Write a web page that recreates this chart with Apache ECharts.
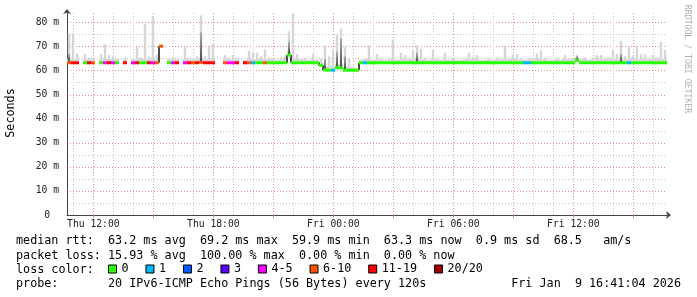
<!DOCTYPE html>
<html><head><meta charset="utf-8">
<script src="https://cdn.jsdelivr.net/npm/echarts@6/dist/echarts.min.js"></script>
<style>html,body{margin:0;padding:0;background:#fff}#c{width:697px;height:297px}</style>
</head><body><div id="c"></div>
<script>
// ---- time frame (minutes after Thu 00:00) ----
const START_MIN = 641;      // Thu 10:41
const SPAN_MIN = 1800;      // 30 hours
const BIN_MIN = 12;         // one value per 12 minutes

// ---- tick labels ----
const xTickLabels = ['Thu 12:00', 'Thu 18:00', 'Fri 00:00', 'Fri 06:00', 'Fri 12:00'];
const yTickValues = [0, 10, 20, 30, 40, 50, 60, 70, 80];

// ---- loss colour classes ----
const lossClasses = ['0', '1', '2', '3', '4-5', '6-10', '11-19', '20/20'];
const lossUpper   = [0, 1, 2, 3, 5, 10, 19, 20];
const lossColors  = ['#26ff00', '#00b8ff', '#0059ff', '#5e00ff', '#ff00ff', '#ff5500', '#ff0000', '#a00000'];

// ---- series values, one per 12-minute bin (150 bins) ----
const medianRtt = [
  63.3, 63.3, 63.3, null, 63.3, 63.3, 63.3, null, 63.3, 63.3,
  63.3, 63.3, 63.3, null, 63.3, null, 63.3, 63.3, 63.3, 63.3,
  63.3, 63.3, 63.3, 70.2, null, 63.3, 63.3, 63.3, null, 63.3,
  63.3, 63.3, 63.3, 63.5, 63.3, 63.3, 63.3, null, null, 63.3,
  63.3, 63.3, 63.3, null, 63.3, 63.3, 63.3, 63.3, 63.3, 63.3,
  63.3, 63.3, 63.3, 63.3, 63.3, 66.5, 63.3, 63.3, 63.3, 63.3,
  63.3, 63.3, 63.3, 62.2, 60.3, 60.2, 60.2, 61.2, 61.2, 60.2,
  60.2, 60.2, 60.2, 63.3, 63.3, 63.3, 63.3, 63.3, 63.3, 63.3,
  63.3, 63.3, 63.3, 63.3, 63.3, 63.3, 63.3, 63.3, 63.3, 63.3,
  63.3, 63.3, 63.3, 63.3, 63.3, 63.3, 63.3, 63.3, 63.3, 63.3,
  63.3, 63.3, 63.3, 63.3, 63.3, 63.3, 63.3, 63.3, 63.3, 63.3,
  63.3, 63.3, 63.3, 63.3, 63.3, 63.3, 63.3, 63.3, 63.3, 63.3,
  63.3, 63.3, 63.3, 63.3, 63.3, 63.3, 63.3, 64.3, 63.3, 63.3,
  63.3, 63.3, 63.3, 63.3, 63.3, 63.3, 63.3, 63.3, 63.3, 63.3,
  63.3, 63.3, 63.3, 63.3, 63.3, 63.3, 63.3, 63.3, 63.3, 63.3
];
const lossCount = [
  8, 15, 15, 20, 0, 15, 8, 20, 0, 5,
  15, 5, 0, 20, 15, 20, 5, 15, 0, 0,
  15, 5, 8, 8, 20, 0, 5, 15, 20, 5,
  15, 8, 15, 8, 15, 15, 15, 20, 20, 8,
  5, 5, 15, 20, 15, 8, 1, 0, 0, 8,
  0, 0, 0, 0, 0, 0, 0, 0, 0, 0,
  0, 0, 0, 0, 0, 0, 1, 0, 0, 0,
  0, 0, 0, 0, 1, 0, 0, 0, 0, 0,
  0, 0, 0, 0, 0, 0, 0, 0, 0, 0,
  0, 0, 0, 0, 0, 0, 0, 0, 0, 0,
  0, 0, 0, 0, 0, 0, 0, 0, 0, 0,
  0, 0, 0, 0, 1, 1, 0, 0, 0, 0,
  0, 0, 0, 0, 0, 0, 0, 0, 0, 0,
  0, 0, 0, 0, 0, 0, 0, 0, 0, 0,
  1, 0, 0, 0, 0, 0, 0, 0, 0, 0
];
const smokeMax = [
  75.4, 75.6, 67.2, null, 67.0, 65.5, 65.0, null, 67.0, 71.0,
  66.5, 66.0, 65.0, null, 65.5, null, 65.0, 70.0, 65.5, 79.3,
  65.8, 82.6, 66.6, 70.5, null, 65.0, 65.8, 64.8, null, 70.0,
  65.0, 64.8, 66.0, 83.0, 66.0, 70.5, 71.6, null, null, 66.5,
  65.5, 66.5, 65.0, null, 64.5, 68.2, 67.5, 67.5, 66.0, 68.9,
  65.5, 65.0, 64.5, 65.5, 66.0, 76.4, 83.7, 66.9, 65.0, 65.0,
  64.5, 67.0, 64.5, 65.0, 70.5, 66.0, 68.5, 75.0, 77.5, 70.0,
  65.0, 61.5, 61.0, 64.5, 65.0, 70.5, 64.5, 67.0, 65.0, 64.5,
  65.0, 73.0, 64.5, 67.5, 66.5, 65.0, 68.5, 70.5, 69.0, 65.0,
  64.5, 68.6, 65.0, 64.5, 67.5, 64.5, 65.0, 64.5, 64.5, 65.0,
  67.5, 65.8, 66.5, 64.5, 64.5, 65.0, 64.5, 65.5, 65.0, 70.5,
  65.0, 66.8, 66.8, 65.0, 64.5, 65.0, 65.0, 67.2, 68.5, 65.0,
  64.5, 64.5, 65.5, 64.5, 66.5, 65.0, 65.0, 66.6, 65.0, 65.5,
  64.5, 65.0, 66.5, 66.5, 65.0, 65.5, 68.6, 67.0, 72.3, 66.0,
  70.0, 66.0, 70.5, 66.8, 66.8, 65.0, 66.5, 65.5, 72.0, 68.6
];
const smokeDense = [
  67.0, null, null, null, null, null, null, null, null, null,
  null, null, null, null, null, null, null, null, null, null,
  null, null, null, null, null, null, null, null, null, null,
  null, null, null, 76.0, null, null, null, null, null, null,
  null, null, null, null, null, null, null, null, null, null,
  null, null, null, null, null, 72.0, null, null, null, null,
  null, null, null, null, 65.0, null, null, 68.0, 73.5, 66.0,
  null, null, null, null, null, null, null, null, null, null,
  null, null, null, null, null, null, null, 67.5, null, null,
  null, null, null, null, null, null, null, null, null, null,
  null, null, null, null, null, null, null, null, null, null,
  null, null, null, null, null, null, null, null, null, null,
  null, null, null, null, null, null, null, 66.0, null, null,
  null, null, null, null, null, null, null, null, 67.0, null,
  null, null, null, null, null, null, null, null, null, null
];

// ---- legend text ----
const statLines = [
  'median rtt:  63.2 ms avg  69.2 ms max  59.9 ms min  63.3 ms now  0.9 ms sd  68.5   am/s',
  'packet loss: 15.93 % avg  100.00 % max  0.00 % min  0.00 % now',
  'loss color:',
  'probe:       20 IPv6-ICMP Echo Pings (56 Bytes) every 120s'
];
const stampText = 'Fri Jan  9 16:41:04 2026';

// ================= build =================
const MONO = '"DejaVu Sans Mono", monospace';
const pad = n => (n < 10 ? '0' : '') + n;
const categories = [];
for (let k = 0; k <= SPAN_MIN; k++) {
  const m = START_MIN + k, d = m < 1440 ? 'Thu' : 'Fri', mm = m % 1440;
  categories.push(d + ' ' + pad(Math.floor(mm / 60)) + ':' + pad(mm % 60));
}
const minuteOf = idx => START_MIN + idx;
const isMajor = idx => minuteOf(idx) % 180 === 0;
const isMinor = idx => minuteOf(idx) % 60 === 0 && minuteOf(idx) % 180 !== 0;
const isLabel = (idx, val) => xTickLabels.indexOf(val) >= 0;

const clsOf = c => lossUpper.findIndex(u => c <= u);

const MAJOR = '#e68c8c', MINOR = '#c4c4c4';
const yLineColors = [];
for (let v = 0; v <= 80; v += 5) yLineColors.push(v === 0 ? 'rgba(0,0,0,0)' : (v % 10 === 0 ? MAJOR : MINOR));
yLineColors.push('rgba(0,0,0,0)');

const smokeData = [], denseData = [], stepData = [];
medianRtt.forEach((m, i) => {
  if (m == null) return;
  smokeData.push([i * BIN_MIN, m, smokeMax[i]]);
  if (smokeDense[i] != null) denseData.push([i * BIN_MIN, m, smokeDense[i]]);
  const n = medianRtt[i + 1];
  if (n != null && Math.abs(n - m) > 1) stepData.push([(i + 1) * BIN_MIN, m, n]);
});

function smokeRender(color) {
  return function (params, api) {
    const x0 = api.value(0), lo = api.value(1), hi = api.value(2);
    const a = api.coord([x0, lo]), b = api.coord([x0 + BIN_MIN, hi]);
    const w = b[0] - a[0];
    const haze = api.coord([x0, Math.min(hi, lo + 1.5)]);
    return {
      type: 'group', children: [
        { type: 'rect', shape: { x: a[0], y: haze[1], width: w, height: a[1] - haze[1] }, style: { fill: color } },
        { type: 'rect', shape: { x: a[0] + w * 0.2, y: b[1], width: w * 0.6, height: a[1] - b[1] }, style: { fill: color } }
      ]
    };
  };
}

const series = [
  { type: 'custom', name: 'smoke', z: 1, silent: true, data: smokeData, encode: { x: 0, y: [1, 2] },
    renderItem: smokeRender('#d6d6d6') },
  { type: 'custom', name: 'smokeDense', z: 2, silent: true, data: denseData, encode: { x: 0, y: [1, 2] },
    renderItem: function (params, api) {
      const x0 = api.value(0), lo = api.value(1), hi = api.value(2);
      const a = api.coord([x0, lo]), b = api.coord([x0 + BIN_MIN, hi]);
      const w = b[0] - a[0];
      return { type: 'rect', shape: { x: a[0] + w * 0.25, y: b[1], width: w * 0.5, height: a[1] - b[1] },
        style: { fill: new echarts.graphic.LinearGradient(0, 0, 0, 1, [{ offset: 0, color: '#b0b0b0' }, { offset: 1, color: '#444' }]) } };
    } },
  { type: 'custom', name: 'steps', z: 3, silent: true, data: stepData, encode: { x: 0, y: [1, 2] },
    renderItem: function (params, api) {
      const x = api.value(0);
      const a = api.coord([x, api.value(1)]), b = api.coord([x, api.value(2)]);
      return { type: 'line', shape: { x1: a[0], y1: a[1], x2: b[0], y2: b[1] }, style: { stroke: '#111', lineWidth: 1.5 } };
    } }
];
lossClasses.forEach((name, c) => {
  const data = [];
  medianRtt.forEach((m, i) => { if (m != null && clsOf(lossCount[i]) === c) data.push([i * BIN_MIN, m]); });
  series.push({
    type: 'custom', name: name, z: 4, silent: true, data: data, encode: { x: 0, y: 1 },
    itemStyle: { color: lossColors[c] },
    renderItem: function (params, api) {
      const x0 = api.value(0), v = api.value(1);
      const a = api.coord([x0, v]), b = api.coord([x0 + BIN_MIN, v]);
      return { type: 'rect', shape: { x: a[0], y: a[1] - 1.5, width: b[0] - a[0], height: 3 }, style: { fill: api.visual('color') } };
    }
  });
});

const graphic = statLines.map((t, i) => ({
  type: 'text', x: 16, y: [241, 255.5, 269.5, 284][i], silent: true,
  style: { text: t, font: '11.75px ' + MONO, fill: '#000', verticalAlign: 'middle', align: 'left' }
}));
graphic.push({ type: 'text', x: 681, y: 284, silent: true,
  style: { text: stampText, font: '11.75px ' + MONO, fill: '#000', verticalAlign: 'middle', align: 'right' } });
graphic.push({ type: 'text', x: 11, y: 113, rotation: Math.PI / 2, silent: true,
  style: { text: 'Seconds', font: '11.75px ' + MONO, fill: '#000', verticalAlign: 'middle', align: 'center' } });
graphic.push({ type: 'text', x: 687, y: 59, rotation: -Math.PI / 2, silent: true,
  style: { text: 'RRDTOOL / TOBI OETIKER', font: '8.2px ' + MONO, fill: '#b0b0b0', verticalAlign: 'middle', align: 'center' } });

const chart = echarts.init(document.getElementById('c'), null, { renderer: 'canvas' });
chart.setOption({
  animation: false,
  backgroundColor: '#ffffff',
  grid: { left: 67, right: 30, top: 13, bottom: 82 },
  xAxis: [
    { type: 'category', data: categories, boundaryGap: false,
      axisLine: { show: true, lineStyle: { color: '#444', width: 1 }, symbol: ['none', 'arrow'], symbolSize: [6, 5], symbolOffset: [0, 4] },
      axisTick: { show: true, interval: isMajor, length: 3, lineStyle: { color: MAJOR } },
      axisLabel: { interval: isLabel, fontFamily: MONO, fontSize: 9.7, color: '#222', margin: 4 },
      splitLine: { show: true, interval: isMajor, lineStyle: { color: MAJOR, type: [1, 2], width: 1 } } },
    { type: 'category', data: categories, boundaryGap: false, position: 'bottom',
      axisLine: { show: false }, axisTick: { show: false }, axisLabel: { show: false },
      splitLine: { show: true, interval: isMinor, lineStyle: { color: MINOR, type: [1, 2], width: 1 } } }
  ],
  yAxis: {
    type: 'value', min: 0, max: 84, interval: 5,
    axisLine: { show: true, lineStyle: { color: '#444', width: 1 }, symbol: ['none', 'arrow'], symbolSize: [6, 5], symbolOffset: [0, 4] },
    axisTick: { show: false },
    axisLabel: {
      fontFamily: MONO, fontSize: 9.7, color: '#222', margin: 8,
      formatter: v => (yTickValues.indexOf(v) < 0 ? '' : (v === 0 ? '{z|0}' : v + ' m')),
      rich: { z: { fontFamily: MONO, fontSize: 9.7, color: '#222', padding: [0, 9, 0, 0] } }
    },
    splitLine: { show: true, showMaxLine: false, lineStyle: { color: yLineColors, type: [1, 2], width: 1 } }
  },
  legend: {
    data: lossClasses, left: 108, top: 263, padding: 0, icon: 'rect', itemWidth: 8, itemHeight: 8, itemGap: 16.9,
    selectedMode: false,
    itemStyle: { borderColor: '#000', borderWidth: 1 },
    textStyle: { fontFamily: MONO, fontSize: 11.75, color: '#000' }
  },
  graphic: graphic,
  series: series
});
</script>
</body></html>
